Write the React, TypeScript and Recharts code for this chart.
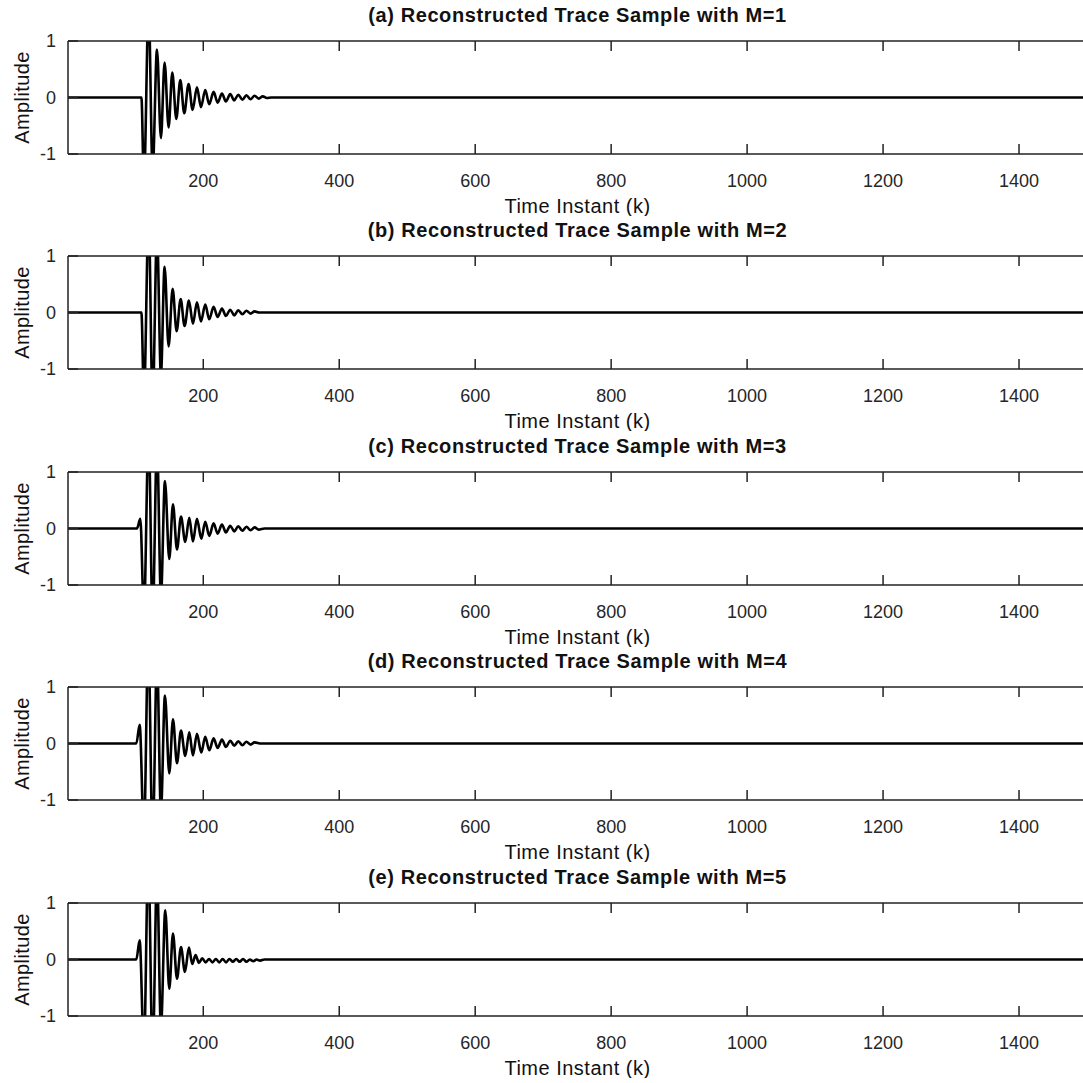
import React from "react";
import { LineChart, Line, XAxis, YAxis } from "recharts";

// shared axis ticks
const timeTicks = [200, 400, 600, 800, 1000, 1200, 1400];
const ampTicks = [-1, 0, 1];

// [time instant k, amplitude]: onset, every crest / trough, then back to rest
const traceM1: [number, number][] = [
  [1, 0], [109, 0], [112.7, -1.5], [119.6, 1.6], [125.5, -1.3], [131.9, 0.85],
  [137.7, -0.72], [143.1, 0.62], [149, -0.53], [154.4, 0.44], [160.3, -0.38],
  [166.2, 0.31], [172, -0.28], [178.4, 0.24], [184.3, -0.22], [190.7, 0.18],
  [196.6, -0.17], [202.9, 0.13], [208.8, -0.12], [215.2, 0.1], [221.1, -0.09],
  [227.5, 0.07], [233.3, -0.07], [239.7, 0.06], [245.5, -0.05], [251.5, 0.05],
  [257.5, -0.04], [263.5, 0.04], [269.5, -0.03], [275.5, 0.03], [281.5, -0.02],
  [287.5, 0.02], [293.5, -0.01], [300, 0], [1500, 0],
];

const traceM2: [number, number][] = [
  [1, 0], [109, 0], [112.7, -1.5], [119.6, 1.7], [125.5, -1.6], [131.9, 1.4],
  [137.7, -1.1], [143.1, 0.81], [149, -0.6], [154.9, 0.42], [160.8, -0.33],
  [166.7, 0.24], [172.5, -0.24], [178.9, 0.21], [184.8, -0.2], [190.7, 0.18],
  [196.6, -0.16], [202.9, 0.14], [208.8, -0.12], [215.2, 0.1], [221.1, -0.08],
  [227.5, 0.07], [233.3, -0.06], [239.7, 0.05], [245.5, -0.05], [251.5, 0.04],
  [257.5, -0.03], [263.5, 0.03], [269.5, -0.02], [275.5, 0.02], [282, 0], [1500, 0],
];

const traceM3: [number, number][] = [
  [1, 0], [102.4, 0], [107.4, 0.17], [112.7, -1.5], [119.6, 1.7], [125.5, -1.6],
  [131.9, 1.5], [137.7, -1.2], [143.6, 0.84], [150, -0.54], [155.4, 0.43],
  [161.3, -0.37], [167.2, 0.21], [173.5, -0.24], [179.4, 0.19], [184.8, -0.23],
  [190.7, 0.17], [197.1, -0.18], [202.9, 0.12], [208.8, -0.13], [215.2, 0.09],
  [221.1, -0.09], [227.5, 0.07], [233.3, -0.07], [239.7, 0.05], [245.5, -0.05],
  [251.5, 0.04], [257.5, -0.04], [263.5, 0.03], [269.5, -0.03], [275.5, 0.02],
  [281.5, -0.02], [290, 0], [1500, 0],
];

const traceM4: [number, number][] = [
  [1, 0], [101.5, 0], [106.4, 0.33], [112.7, -1.6], [119.1, 1.8], [125.5, -1.7],
  [131.9, 1.5], [137.7, -1.2], [143.6, 0.85], [150, -0.53], [155.4, 0.43],
  [161.3, -0.35], [167.2, 0.23], [173.5, -0.22], [179.4, 0.2], [184.8, -0.21],
  [190.7, 0.17], [197.1, -0.16], [202.9, 0.12], [208.8, -0.12], [215.2, 0.09],
  [221.1, -0.08], [227.5, 0.07], [233.3, -0.06], [239.7, 0.05], [245.5, -0.04],
  [251.5, 0.04], [257.5, -0.03], [263.5, 0.03], [269.5, -0.02], [275.5, 0.02],
  [285, 0], [1500, 0],
];

const traceM5: [number, number][] = [
  [1, 0], [101.5, 0], [106.4, 0.34], [112.7, -1.6], [119.1, 1.8], [125.5, -1.7],
  [131.9, 1.5], [137.7, -1.2], [144.1, 0.87], [150, -0.52], [155.4, 0.46],
  [161.3, -0.34], [167.2, 0.22], [173, -0.22], [178.9, 0.21], [183.8, -0.08],
  [188.7, 0.08], [193.5, -0.06], [198.5, 0.02], [203.5, -0.05], [208.5, 0.01],
  [213.5, -0.05], [218.5, 0.01], [223.5, -0.05], [228.5, 0.01], [233.5, -0.05],
  [238.5, 0.01], [243.5, -0.04], [248.5, 0.01], [253.5, -0.04], [258.5, 0.01],
  [263.5, -0.04], [268.5, 0], [273.5, -0.03], [278.5, 0], [283.5, -0.02],
  [290, 0], [1500, 0],
];

const panels = [
  { title: "(a) Reconstructed Trace Sample with M=1", trace: traceM1 },
  { title: "(b) Reconstructed Trace Sample with M=2", trace: traceM2 },
  { title: "(c) Reconstructed Trace Sample with M=3", trace: traceM3 },
  { title: "(d) Reconstructed Trace Sample with M=4", trace: traceM4 },
  { title: "(e) Reconstructed Trace Sample with M=5", trace: traceM5 },
];

// layout (px)
const PLOT_LEFT = 68;
const PLOT_WIDTH = 1019;
const PLOT_HEIGHT = 113;
const TOP_SPACE = 40;
const BOTTOM_SPACE = 62;
const FIRST_PLOT_TOP = 40.5;
const PANEL_STEP = 215.5;

const FONT = "'Liberation Sans', Arial, Helvetica, sans-serif";
const tickStyle = { fontSize: 18, fill: "#262626", fontFamily: FONT };

const NoTick = () => <g />;

function TracePanel({ title, trace, top }: { title: string; trace: [number, number][]; top: number }) {
  const data = trace.map(([k, amp]) => ({ k, amp }));
  return (
    <div style={{ position: "absolute", left: 0, top: top - TOP_SPACE }}>
      <div
        style={{
          position: "absolute",
          left: PLOT_LEFT,
          width: PLOT_WIDTH,
          top: 3,
          textAlign: "center",
          fontFamily: FONT,
          fontWeight: "bold",
          fontSize: 20,
          letterSpacing: 0.6,
          lineHeight: "22px",
          color: "#111",
          whiteSpace: "nowrap",
        }}
      >
        {title}
      </div>
      <LineChart
        width={PLOT_LEFT + PLOT_WIDTH + 10}
        height={TOP_SPACE + PLOT_HEIGHT + BOTTOM_SPACE}
        data={data}
        margin={{ top: 0, right: 10, bottom: 0, left: 0 }}
      >
        <XAxis
          xAxisId="top"
          orientation="top"
          dataKey="k"
          type="number"
          domain={[1, 1500]}
          ticks={timeTicks}
          allowDataOverflow
          height={TOP_SPACE}
          tick={NoTick}
          tickSize={-10}
          stroke="#222"
          strokeWidth={1.5}
        />
        <XAxis
          dataKey="k"
          type="number"
          domain={[1, 1500]}
          ticks={timeTicks}
          allowDataOverflow
          height={BOTTOM_SPACE}
          tickSize={-10}
          tickMargin={30}
          tick={tickStyle}
          stroke="#222"
          strokeWidth={1.5}
          label={{
            value: "Time Instant (k)",
            position: "insideBottom",
            offset: 3,
            style: { fontSize: 20, fill: "#111", fontFamily: FONT, letterSpacing: 0.5 },
          }}
        />
        <YAxis
          domain={[-1, 1]}
          ticks={ampTicks}
          allowDataOverflow
          width={PLOT_LEFT}
          tickSize={-10}
          tickMargin={22}
          tick={tickStyle}
          stroke="#222"
          strokeWidth={1.5}
          label={{
            value: "Amplitude",
            angle: -90,
            position: "insideLeft",
            offset: 22,
            style: { fontSize: 20, fill: "#111", fontFamily: FONT, textAnchor: "middle", letterSpacing: 0.4 },
          }}
        />
        <Line
          dataKey="amp"
          type="monotone"
          stroke="#000"
          strokeWidth={2.6}
          dot={false}
          activeDot={false}
          isAnimationActive={false}
        />
      </LineChart>
    </div>
  );
}

export default function App() {
  return (
    <div
      style={{
        position: "fixed",
        left: 0,
        top: 0,
        width: 1083,
        height: 1083,
        overflow: "hidden",
        background: "#fff",
      }}
    >
      {panels.map((p, i) => (
        <TracePanel key={p.title} title={p.title} trace={p.trace} top={Math.round(FIRST_PLOT_TOP + i * PANEL_STEP)} />
      ))}
    </div>
  );
}
